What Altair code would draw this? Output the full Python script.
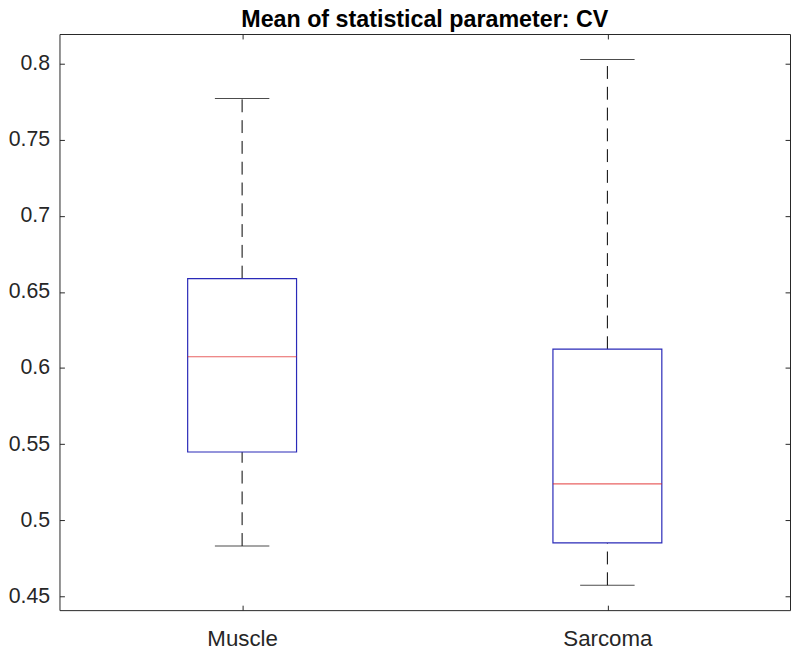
import altair as alt
import pandas as pd

title_text = ["Mean of statistical parameter: CV"]
groups = ["Muscle", "Sarcoma"]
lower_whisker = [0.4831, 0.4573]
q1 = [0.5448, 0.4851]
median = [0.6074, 0.5239]
q3 = [0.6588, 0.6124]
upper_whisker = [0.7772, 0.8028]

y_ticks = [0.45, 0.5, 0.55, 0.6, 0.65, 0.7, 0.75, 0.8]
y_domain = [0.4409, 0.8195]

df = pd.DataFrame({
    "group": groups,
    "lo": lower_whisker,
    "q1": q1,
    "med": median,
    "q3": q3,
    "hi": upper_whisker,
})

W, H = 738, 582
FONT = "Liberation Sans"
AX = "#262626"

xscale = alt.Scale(type="point", domain=groups, padding=0.5)
yscale = alt.Scale(domain=y_domain, nice=False, zero=False)

base = alt.Chart(df)

upper_w = base.mark_rule(color="black", strokeWidth=1, strokeDash=[13, 8]).encode(
    x=alt.X("group:N", scale=xscale, title=None,
            axis=alt.Axis(orient="bottom", offset=-5, tickSize=5, domain=False, grid=False,
                          labelAngle=0, labelFont=FONT, labelFontSize=22.5, labelColor=AX,
                          tickColor=AX, labelPadding=18)),
    y=alt.Y("q3:Q", scale=yscale, title=None,
            axis=alt.Axis(orient="left", offset=-5, tickSize=5, domain=False, grid=False,
                          values=y_ticks, labelFont=FONT, labelFontSize=21.5, labelColor=AX,
                          tickColor=AX, labelPadding=10,
                          labelExpr="format(datum.value, '.2~f')")),
    y2="hi:Q",
)
lower_w = base.mark_rule(color="black", strokeWidth=1, strokeDash=[13, 8]).encode(
    x=alt.X("group:N", scale=xscale, axis=None),
    y=alt.Y("lo:Q", scale=yscale, axis=None),
    y2="q1:Q",
)
box = base.mark_bar(size=110, fill="white", stroke="#2a2ab8", strokeWidth=1.2).encode(
    x=alt.X("group:N", scale=xscale, axis=None),
    y=alt.Y("q1:Q", scale=yscale, axis=None),
    y2="q3:Q",
)
med = base.mark_tick(size=110, thickness=1.2, color="#e02020", orient="horizontal").encode(
    x=alt.X("group:N", scale=xscale, axis=None),
    y=alt.Y("med:Q", scale=yscale, axis=None),
)
cap_hi = base.mark_tick(size=55, thickness=1, color="black", orient="horizontal").encode(
    x=alt.X("group:N", scale=xscale, axis=None),
    y=alt.Y("hi:Q", scale=yscale, axis=None),
)
cap_lo = base.mark_tick(size=55, thickness=1, color="black", orient="horizontal").encode(
    x=alt.X("group:N", scale=xscale, axis=None),
    y=alt.Y("lo:Q", scale=yscale, axis=None),
)

# mirrored axes (top and right) with inward ticks, no labels
mirror = base.mark_point(opacity=0).encode(
    x=alt.X("group:N", scale=xscale, title=None,
            axis=alt.Axis(orient="top", offset=-5, tickSize=5, domain=False, grid=False,
                          labels=False, tickColor=AX)),
    y=alt.Y("med:Q", scale=yscale, title=None,
            axis=alt.Axis(orient="right", offset=-5, tickSize=5, domain=False, grid=False,
                          values=y_ticks, labels=False, tickColor=AX)),
)

title = alt.Chart(pd.DataFrame({"t": title_text})).mark_text(
    font=FONT, fontSize=23.5, fontWeight="bold", color="black",
    align="center", baseline="alphabetic",
).encode(text="t:N", x=alt.value(W / 2), y=alt.value(-7))

chart = alt.layer(upper_w, lower_w, box, med, cap_hi, cap_lo, mirror, title).resolve_axis(
    x="independent", y="independent"
).properties(
    width=W, height=H,
    autosize=alt.AutoSizeParams(type="none"),
    padding={"left": 52, "top": 23, "right": 2, "bottom": 38},
    background="white",
).configure_view(stroke=AX, strokeWidth=1)

chart.save("out.html", embed_options={"renderer": "svg", "actions": False})
